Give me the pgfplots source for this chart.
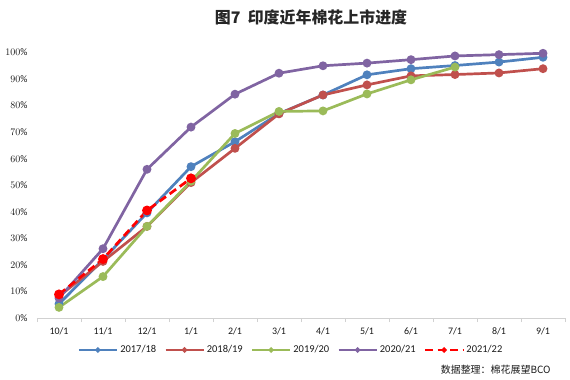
\documentclass[border=0pt]{standalone}
\usepackage{pgfplots}
\pgfplotsset{compat=1.18}
\usepackage{fontspec}
\setmainfont{Carlito}
\newfontfamily\cjk{Noto Sans CJK SC}
\definecolor{cblue}{HTML}{4F81BD}
\definecolor{cred}{HTML}{C0504D}
\definecolor{cgreen}{HTML}{9BBB59}
\definecolor{cpurple}{HTML}{8064A2}
\definecolor{cdash}{HTML}{FF0000}
\begin{document}
\begin{tikzpicture}
\useasboundingbox (0,0) rectangle (570bp,380bp);
\begin{axis}[
  at={(37bp,62bp)}, anchor=south west, scale only axis,
  width=528bp, height=265.5bp,
  xmin=-0.5, xmax=11.5, ymin=0, ymax=100,
  xtick={0,...,11},
  xticklabels={10/1,11/1,12/1,1/1,2/1,3/1,4/1,5/1,6/1,7/1,8/1,9/1},
  minor xtick={-0.5,0.5,...,11.5},
  ytick={0,10,...,100},
  yticklabel={\pgfmathprintnumber{\tick}\%},
  axis x line*=bottom, axis y line*=left,
  x axis line style={draw=black!18, line width=0.8bp, -},
  y axis line style={draw=none},
  major tick length=0pt,
  minor tick length=4bp,
  tick align=outside,
  minor tick style={draw=black!18, line width=0.8bp},
  tick label style={font=\fontsize{10}{12}\selectfont, text=black!90},
  xticklabel style={yshift=-6bp},
  yticklabel style={xshift=-6bp},
  every axis plot/.append style={line width=2.7bp, mark=*, mark size=3bp},
  legend columns=5,
  legend style={at={(axis description cs:0.481,-0.1205)}, anchor=center, draw=none, fill=none,
    font=\fontsize{10.5}{12}\selectfont, text=black!90,
    /tikz/every odd column/.append style={column sep=0bp},
    /tikz/every even column/.append style={column sep=6bp}},
  legend image code/.code={\draw[mark repeat=2, mark phase=2, mark size=1.1bp, #1] plot coordinates {(0bp,0bp) (19bp,0bp) (38bp,0bp)};},
]
\addplot[color=cblue, mark options={fill=cblue}] coordinates {
 (0,5.3) (1,22) (2,39.6) (3,57) (4,66.4) (5,77) (6,84) (7,91.6) (8,93.9) (9,95.1) (10,96.4) (11,98.2)};
\addlegendentry{2017/18}
\addplot[color=cred, mark options={fill=cred}] coordinates {
 (0,8.2) (1,21.3) (2,34.5) (3,51) (4,63.9) (5,76.9) (6,84) (7,87.8) (8,91.2) (9,91.7) (10,92.3) (11,93.9)};
\addlegendentry{2018/19}
\addplot[color=cgreen, mark options={fill=cgreen}] coordinates {
 (0,4) (1,15.6) (2,34.5) (3,51.5) (4,69.5) (5,77.8) (6,78) (7,84.4) (8,89.7) (9,94.5)};
\addlegendentry{2019/20}
\addplot[color=cpurple, mark options={fill=cpurple}] coordinates {
 (0,7.5) (1,26.1) (2,56) (3,71.9) (4,84.3) (5,92.2) (6,95) (7,96) (8,97.3) (9,98.7) (10,99.2) (11,99.7)};
\addlegendentry{2020/21}
\addplot[color=cdash, dash pattern=on 8bp off 4.5bp, mark options={fill=cdash, solid}, mark size=3.5bp] coordinates {
 (0,8.9) (1,22.2) (2,40.5) (3,52.6)};
\addlegendentry{2021/22}
\end{axis}
\node[font=\cjk\bfseries\fontsize{16}{18}\selectfont, text=black!85] at (311bp,363bp) {图7\ \ 印度近年棉花上市进度};
\node[anchor=east, font=\cjk\fontsize{10}{11}\selectfont, text=black!90] at (554bp,10bp) {数据整理：棉花展望BCO};
\end{tikzpicture}
\end{document}
